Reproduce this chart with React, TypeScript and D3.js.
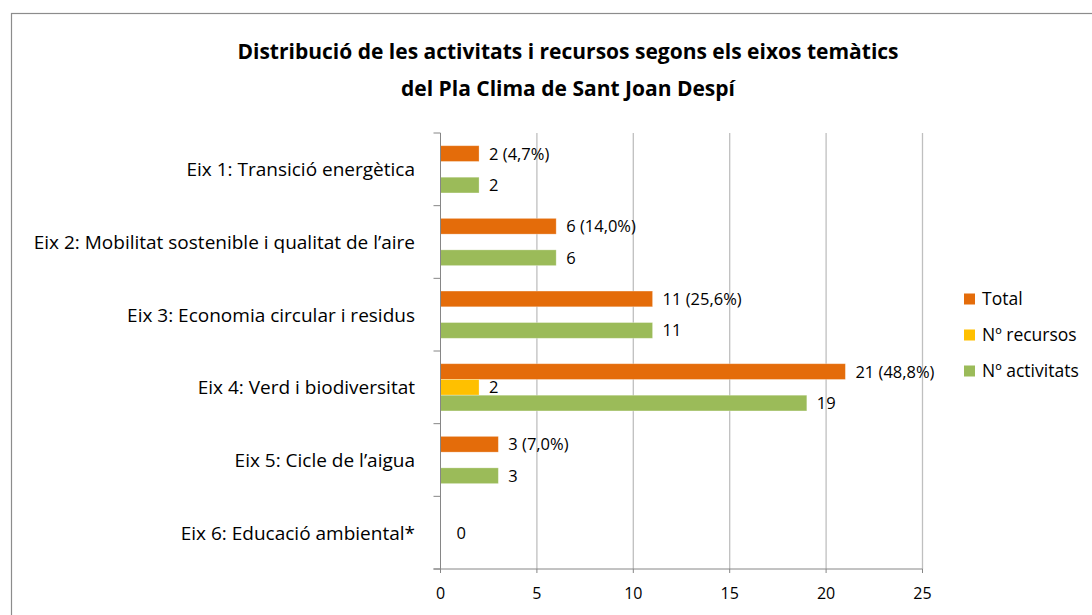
import React, { useEffect, useRef } from "react";
import * as d3 from "d3";

const WIDTH = 1092;
const HEIGHT = 615;

const categories = [
  "Eix 1: Transició energètica",
  "Eix 2: Mobilitat sostenible i qualitat de l’aire",
  "Eix 3: Economia circular i residus",
  "Eix 4: Verd i biodiversitat",
  "Eix 5: Cicle de l’aigua",
  "Eix 6: Educació ambiental*",
];
const seriesNames = ["Total", "Nº recursos", "Nº activitats"];
const seriesColors = ["#E46C0A", "#FFC000", "#9BBB59"];
const totalValues = [2, 6, 11, 21, 3, null];
const totalPercents = ["4,7%", "14,0%", "25,6%", "48,8%", "7,0%", null];
const recursosValues = [null, null, null, 2, null, 0];
const activitatsValues = [2, 6, 11, 19, 3, null];
const xTicks = [0, 5, 10, 15, 20, 25];

const FONT = "'Open Sans', sans-serif";

export default function App() {
  const svgRef = useRef<SVGSVGElement>(null);

  useEffect(() => {
    const svg = d3.select(svgRef.current);
    svg.selectAll("*").remove();

    const left = 440.5, right = 922.5, top = 133, bottom = 569;

    const x = d3.scaleLinear().domain([0, 25]).range([left, right]);
    const y = d3.scaleBand().domain(categories).range([top, bottom]).paddingInner(0.35).paddingOuter(0.175);
    const inner = d3.scaleBand().domain(seriesNames).range([0, y.bandwidth()]);

    // chart border
    svg.append("rect")
      .attr("x", 11.5).attr("y", 13.5)
      .attr("width", WIDTH).attr("height", HEIGHT)
      .attr("fill", "white").attr("stroke", "#8c8c8c").attr("stroke-width", 1.2);

    // title
    const title = svg.append("text")
      .attr("text-anchor", "middle")
      .attr("font-family", FONT).attr("font-weight", "bold")
      .attr("font-size", 21).attr("fill", "#000");
    title.append("tspan").attr("x", 568).attr("y", 59).text("Distribució de les activitats i recursos segons els eixos temàtics");
    title.append("tspan").attr("x", 568).attr("y", 96).text("del Pla Clima de Sant Joan Despí");

    // gridlines
    svg.append("g").selectAll("line")
      .data(xTicks.slice(1))
      .join("line")
      .attr("x1", (d) => x(d)).attr("x2", (d) => x(d))
      .attr("y1", top).attr("y2", bottom)
      .attr("stroke", "#bfbfbf").attr("stroke-width", 1.3);

    // category ticks
    const boundaries = d3.range(categories.length + 1).map((i) => top + (i * (bottom - top)) / categories.length);
    svg.append("g").selectAll("line")
      .data(boundaries)
      .join("line")
      .attr("x1", left - 7).attr("x2", left)
      .attr("y1", (d) => d).attr("y2", (d) => d)
      .attr("stroke", "#868686").attr("stroke-width", 1);

    // bars
    const seriesValues = [totalValues, recursosValues, activitatsValues];
    seriesNames.forEach((name, si) => {
      const g = svg.append("g");
      const rows = categories.map((c, i) => ({ c, v: seriesValues[si][i], i })).filter((d) => d.v !== null);
      g.selectAll("rect")
        .data(rows.filter((d) => (d.v as number) > 0))
        .join("rect")
        .attr("x", left)
        .attr("y", (d) => (y(d.c) as number) + (inner(name) as number))
        .attr("width", (d) => x(d.v as number) - left)
        .attr("height", inner.bandwidth())
        .attr("fill", seriesColors[si])
        .attr("stroke", "white").attr("stroke-opacity", 0.35).attr("stroke-width", 0.8);
      g.selectAll("text")
        .data(rows)
        .join("text")
        .attr("x", (d) => x(d.v as number) + (d.v === 0 ? 16 : 10))
        .attr("y", (d) => (y(d.c) as number) + (inner(name) as number) + inner.bandwidth() / 2)
        .attr("dy", "0.36em")
        .attr("font-family", FONT).attr("font-size", 16.5).attr("fill", "#000")
        .text((d) => (si === 0 && totalPercents[d.i] ? `${d.v} (${totalPercents[d.i]})` : `${d.v}`));
    });

    // axes lines
    svg.append("line").attr("x1", left).attr("x2", left).attr("y1", top).attr("y2", bottom)
      .attr("stroke", "#868686").attr("stroke-width", 1);
    svg.append("line").attr("x1", left - 7).attr("x2", right).attr("y1", bottom).attr("y2", bottom)
      .attr("stroke", "#868686").attr("stroke-width", 1);
    svg.append("g").selectAll("line")
      .data(xTicks)
      .join("line")
      .attr("x1", (d) => x(d)).attr("x2", (d) => x(d))
      .attr("y1", bottom).attr("y2", bottom + 4)
      .attr("stroke", "#868686");
    svg.append("g").selectAll("text")
      .data(xTicks)
      .join("text")
      .attr("x", (d) => x(d)).attr("y", bottom + 30)
      .attr("text-anchor", "middle")
      .attr("font-family", FONT).attr("font-size", 16).attr("fill", "#000")
      .text((d) => d);

    // category labels
    svg.append("g").selectAll("text")
      .data(categories)
      .join("text")
      .attr("x", 415)
      .attr("y", (d) => (y(d) as number) + y.bandwidth() / 2)
      .attr("dy", "0.36em")
      .attr("text-anchor", "end")
      .attr("font-family", FONT).attr("font-size", 19).attr("fill", "#000")
      .text((d) => d);

    // legend
    const legend = svg.append("g").selectAll("g")
      .data(seriesNames)
      .join("g")
      .attr("transform", (d, i) => `translate(964, ${299 + i * 36})`);
    legend.append("rect")
      .attr("x", 0).attr("y", -5.5).attr("width", 11).attr("height", 11)
      .attr("fill", (d, i) => seriesColors[i]);
    legend.append("text")
      .attr("x", 18).attr("y", 0).attr("dy", "0.36em")
      .attr("font-family", FONT).attr("font-size", 17.5).attr("fill", "#000")
      .text((d) => d);
  }, []);

  return (
    <svg
      ref={svgRef}
      width={WIDTH}
      height={HEIGHT}
      style={{ position: "absolute", left: 0, top: 0, background: "white" }}
    />
  );
}
